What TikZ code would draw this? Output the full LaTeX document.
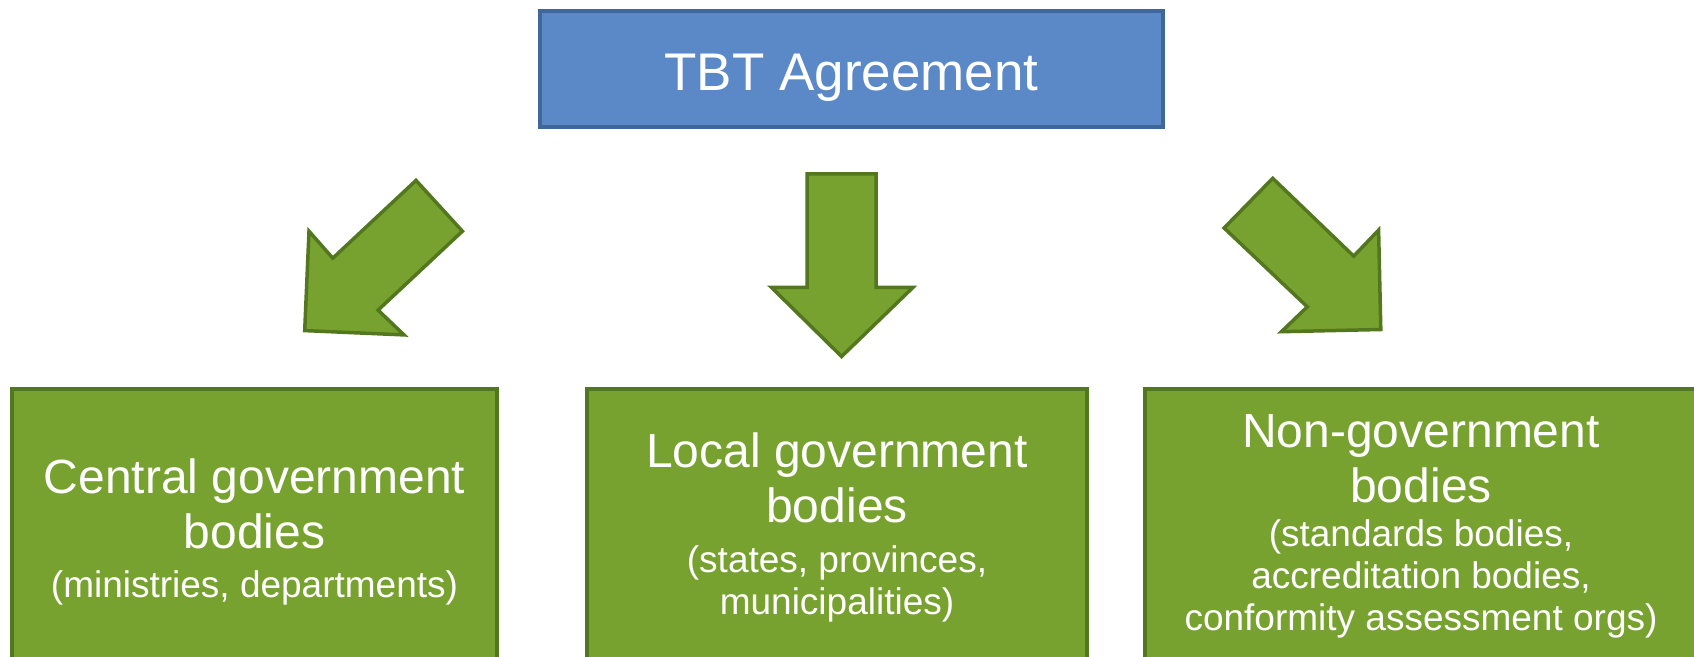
\documentclass[tikz,border=0pt]{standalone}
\usepackage{fontspec}
\setmainfont{Liberation Sans}
\definecolor{bluefill}{HTML}{5B89C7}
\definecolor{blueline}{HTML}{41679A}
\definecolor{greenfill}{HTML}{78A22F}
\definecolor{greenline}{HTML}{53771E}
\begin{document}
\begin{tikzpicture}[x=1pt,y=-1pt,
  topbox/.style={draw=blueline,fill=bluefill,line width=3.5pt,rectangle,minimum width=623pt,minimum height=116pt,inner sep=0pt},
  bodybox/.style={draw=greenline,fill=greenfill,line width=3.5pt,rectangle,minimum height=291pt,inner sep=0pt},
  bigarrow/.style={draw=greenline,fill=greenfill,line width=3.5pt,line join=miter},
  titletext/.style={text=white,font=\fontsize{53}{60}\selectfont,anchor=base,inner sep=0pt},
  maintext/.style={text=white,align=center,font=\fontsize{48}{55}\selectfont,anchor=base,inner sep=0pt},
  subtext/.style={text=white,align=center,font=\fontsize{37}{42}\selectfont,anchor=base,inner sep=0pt}]
\useasboundingbox (0,0) rectangle (1694,656);
\clip (0,0) rectangle (1694,656);
% top box
\node[topbox] (tbt) at (851.5,69) {};
\node[titletext] (tbtlabel) at (851.5,90) {TBT Agreement};
% bottom boxes
\node[bodybox,minimum width=485pt] (central) at (254.5,534.5) {};
\node[bodybox,minimum width=500pt] (local) at (837,534.5) {};
\node[bodybox,minimum width=553pt] (nongov) at (1421.5,534.5) {};
\node[maintext] (centralmain) at (254.5,548) {Central government\\bodies};
\node[subtext] (centralsub) at (254.5,597) {(ministries, departments)};
\node[maintext] (localmain) at (837,522) {Local government\\bodies};
\node[subtext] (localsub) at (837,614) {(states, provinces,\\municipalities)};
\node[maintext] (nongovmain) at (1421,502) {Non-government\\bodies};
\node[subtext] (nongovsub) at (1421,630) {(standards bodies,\\accreditation bodies,\\conformity assessment orgs)};
% block arrows
\draw[bigarrow] (304.7,330.6) -- (309,231.2) -- (332.8,258.2) -- (416,180.4) -- (462.4,231.2) -- (378.1,310.1) -- (404,334.9) -- cycle;
\draw[bigarrow] (807.1,173.9) -- (876.2,173.9) -- (876.2,287.4) -- (913,287.4) -- (841.6,356.5) -- (771.4,287.4) -- (807.1,287.4) -- cycle;
\draw[bigarrow] (1380.8,329.5) -- (1378.6,230.1) -- (1353.7,256.1) -- (1272.7,178.3) -- (1224.1,228) -- (1307.3,306.8) -- (1281.4,331.7) -- cycle;
\end{tikzpicture}
\end{document}
